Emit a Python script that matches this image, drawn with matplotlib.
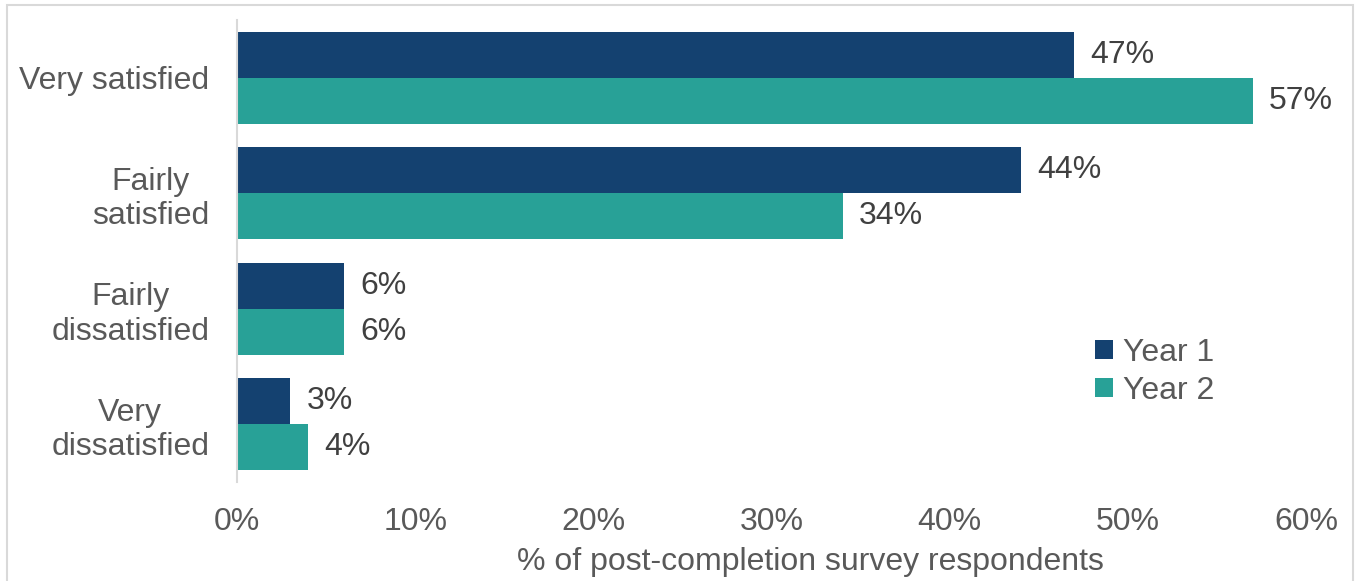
import numpy as np
import matplotlib.pyplot as plt
from matplotlib.patches import Rectangle

plt.rcParams["font.family"] = ["Liberation Sans", "DejaVu Sans"]

categories = ["Very satisfied", "Fairly\nsatisfied", "Fairly\ndissatisfied", "Very\ndissatisfied"]
year1 = [47, 44, 6, 3]
year2 = [57, 34, 6, 4]
series_names = ["Year 1", "Year 2"]
xticks = [0, 10, 20, 30, 40, 50, 60]

NAVY = "#144170"
TEAL = "#28A197"
GREY_TEXT = "#595959"
GREY_LINE = "#D9D9D9"
FS = 23

fig = plt.figure(figsize=(13.57, 5.81), dpi=100)
ax = fig.add_axes([237 / 1357, 1 - 482 / 581, (1306 - 237) / 1357, (482 - 20) / 581])

# outer frame around the chart area
fig.patches.append(Rectangle((7 / 1357, -0.02), (1353 - 7) / 1357, 1.02 - 5 / 581,
                             transform=fig.transFigure, fill=False,
                             edgecolor=GREY_LINE, linewidth=1.5))

y = np.arange(len(categories))
h = 0.4
b1 = ax.barh(y - h / 2, year1, height=h, color=NAVY, label=series_names[0])
b2 = ax.barh(y + h / 2, year2, height=h, color=TEAL, label=series_names[1])

for bars, vals in ((b1, year1), (b2, year2)):
    for bar, v in zip(bars, vals):
        ax.text(v + 0.9, bar.get_y() + bar.get_height() / 2, f"{v}%",
                va="center", ha="left", fontsize=FS, color="#404040")

ax.set_xlim(0, 60)
ax.set_ylim(len(categories) - 0.5, -0.5)
ax.set_xticks(xticks)
ax.set_xticklabels([f"{t}%" for t in xticks])
ax.set_yticks(y)
ax.set_yticklabels(categories, multialignment="center")

ax.tick_params(axis="both", length=0, labelsize=FS, colors=GREY_TEXT)
ax.tick_params(axis="x", pad=18)
ax.tick_params(axis="y", pad=20)

for side in ("top", "right", "bottom"):
    ax.spines[side].set_visible(False)
ax.spines["left"].set_color(GREY_LINE)
ax.spines["left"].set_linewidth(1.5)

ax.set_xlabel("% of post-completion survey respondents", fontsize=FS,
              color=GREY_TEXT)
ax.xaxis.set_label_coords(0.536, -0.173)
ax.xaxis.label.set_va("center")

leg = ax.legend(loc="center left", bbox_to_anchor=(0.803, 0.238), frameon=False,
                fontsize=FS, handlelength=0.55, handleheight=0.55,
                handletextpad=0.3, labelspacing=0.25, borderaxespad=0,
                borderpad=0)
for t in leg.get_texts():
    t.set_color(GREY_TEXT)

fig.savefig("out.png", dpi=100, facecolor="white")
